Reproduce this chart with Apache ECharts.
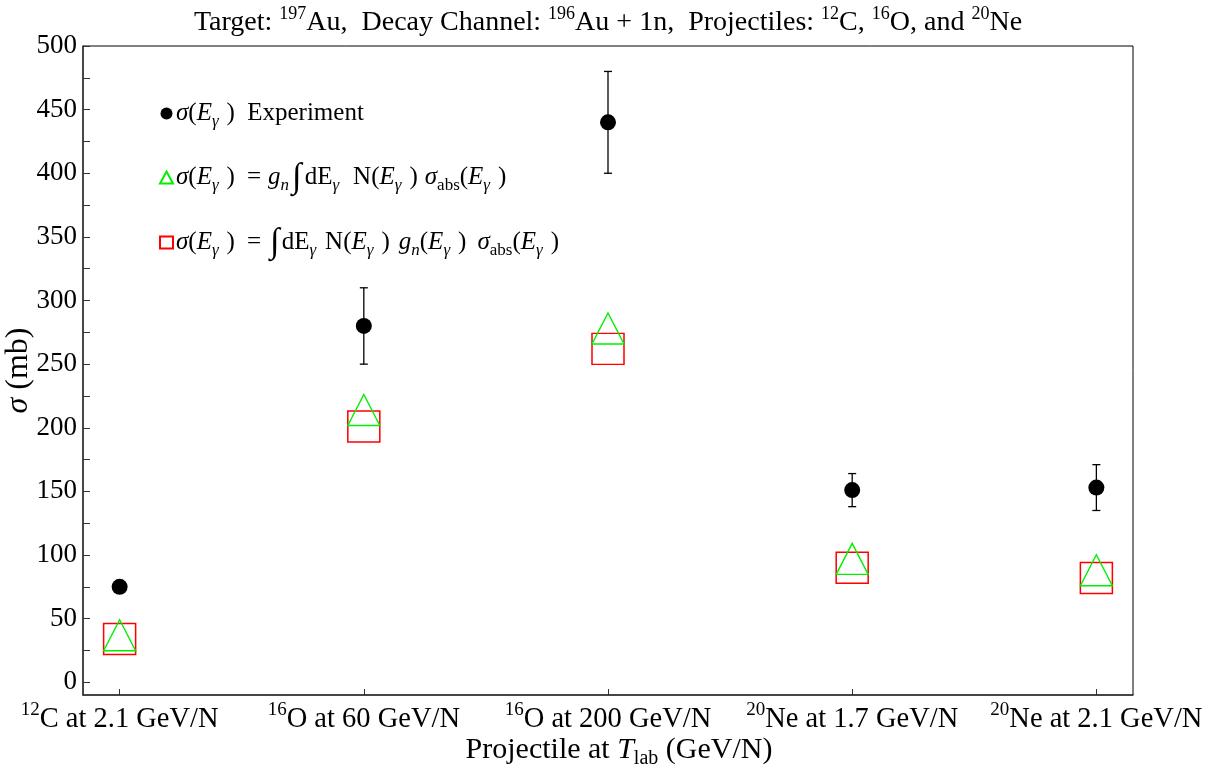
<!DOCTYPE html>
<html>
<head>
<meta charset="utf-8">
<script src="https://cdn.jsdelivr.net/npm/echarts@6/dist/echarts.min.js"></script>
<style>html,body{margin:0;padding:0;background:#fff;}#c{width:1224px;height:776px;}</style>
</head>
<body>
<div id="c"></div>
<script>
// ---- data ----
var categoryMass = ['12', '16', '16', '20', '20'];
var categoryText = ['C at 2.1 GeV/N', 'O at 60 GeV/N', 'O at 200 GeV/N', 'Ne at 1.7 GeV/N', 'Ne at 2.1 GeV/N'];
var categoryPos = [1, 2, 3, 4, 5];
var experiment = [75, 280, 440, 151, 153];
var errLow = [null, 250, 400, 138, 135];
var errHigh = [null, 310, 480, 164, 171];
var modelGn = [37, 214, 278, 97, 88];          // green triangles
var modelGnE = [34, 201, 262, 90, 82];         // red squares
var yTickValues = [0, 25, 50, 75, 100, 125, 150, 175, 200, 225, 250, 275, 300, 325, 350, 375, 400, 425, 450, 475, 500];
var yLabelValues = [0, 50, 100, 150, 200, 250, 300, 350, 400, 450, 500];

var FONT = 'Liberation Serif';
var chart = echarts.init(document.getElementById('c'), null, {renderer: 'canvas'});

function pair(arr) { return categoryPos.map(function (x, i) { return [x, arr[i]]; }); }
var errData = [];
categoryPos.forEach(function (x, i) { if (errLow[i] != null) errData.push([x, errLow[i], errHigh[i]]); });

function mkRich(fs) {
  var s = Math.round(fs * 0.66);
  var r = {
    n: {fontFamily: FONT, fontSize: fs, fontWeight: 'normal', color: '#000', lineHeight: fs + 8},
    i: {fontFamily: FONT, fontSize: fs, fontWeight: 'normal', fontStyle: 'italic', color: '#000', lineHeight: fs + 8},
    sub: {fontFamily: FONT, fontSize: s, fontWeight: 'normal', fontStyle: 'italic', color: '#000', lineHeight: s + 4, verticalAlign: 'bottom'},
    subr: {fontFamily: FONT, fontSize: s, fontWeight: 'normal', color: '#000', lineHeight: s + 4, verticalAlign: 'bottom'},
    sup: {fontFamily: FONT, fontSize: s, fontWeight: 'normal', color: '#000', lineHeight: s, verticalAlign: 'top'},
    int: {fontFamily: FONT, fontSize: fs + 10, fontWeight: 'normal', color: '#000', lineHeight: fs + 8}
  };
  for (var k = 1; k <= 20; k++) r['s' + k] = {fontFamily: FONT, fontSize: fs, width: k, lineHeight: fs + 8};
  return r;
}
var legRich = mkRich(25);
var tickRich = mkRich(28.5);
var nameRich = mkRich(30);
var yNameRich = mkRich(32);
var titleRich = mkRich(28);

var EG = '{i|E}{sub|γ}{s8| }{n|)}';
var legendText = {
  'exp': '{i|σ}{n|(}' + EG + '{s6| }{n| Experiment}',
  'gn': '{i|σ}{n|(}' + EG + '{s12| }{n|=}{s7| }{i|g}{sub|n}{s3| }{int|∫}{s3| }{n|dE}{sub|γ}{s14| }{n|N(}' + EG + '{s7| }{i|σ}{subr|abs}{n|(}' + EG,
  'gnE': '{i|σ}{n|(}' + EG + '{s12| }{n|=}{s9| }{int|∫}{s2| }{n|dE}{sub|γ}{s9| }{n|N(}' + EG + '{s9| }{i|g}{sub|n}{n|(}' + EG + '{s11| }{i|σ}{subr|abs}{n|(}' + EG
};

var option = {
  backgroundColor: '#fff',
  animation: false,
  title: {
    text: '{n|Target: }{sup|197}{n|Au,  Decay Channel: }{sup|196}{n|Au + 1n,  Projectiles: }{sup|12}{n|C, }{sup|16}{n|O, and }{sup|20}{n|Ne}',
    left: 603, top: 0, textAlign: 'center',
    textStyle: {fontWeight: 'normal', rich: titleRich}
  },
  grid: {left: 83, right: 91, top: 46, bottom: 81, show: true, borderColor: '#000', borderWidth: 1,
         backgroundColor: 'transparent', outerBoundsMode: 'none', containLabel: false},
  legend: {
    orient: 'vertical', left: 154, top: 96, itemGap: 30,
    itemWidth: 13, itemHeight: 12,
    data: [
      {name: 'exp', icon: 'circle'},
      {name: 'gn', icon: 'triangle'},
      {name: 'gnE', icon: 'rect'}
    ],
    formatter: function (name) { return legendText[name]; },
    textStyle: {rich: legRich, padding: [0, 0, 0, -2]},
    selectedMode: false
  },
  xAxis: {
    type: 'value', min: 0.85, max: 5.15,
    name: '{n|Projectile at }{i|T}{subr|lab}{n| (GeV/N)}',
    nameLocation: 'middle', nameGap: 36, nameMoveOverlap: false,
    nameTextStyle: {rich: nameRich, padding: [0, 0, 0, 22]},
    axisLine: {onZero: false, lineStyle: {color: '#333', width: 1.5}},
    axisTick: {inside: true, length: 6, customValues: categoryPos, lineStyle: {color: '#333'}},
    axisLabel: {
      customValues: categoryPos, margin: 6,
      formatter: function (v) { var i = Math.round(v) - 1; return '{sup|' + categoryMass[i] + '}{n|' + categoryText[i] + '}'; },
      rich: tickRich
    },
    splitLine: {show: false}
  },
  yAxis: {
    type: 'value', min: -10, max: 500,
    name: '{i|σ}{n| (mb)}', nameLocation: 'middle', nameGap: 44, nameRotate: 90, nameMoveOverlap: false,
    nameTextStyle: {rich: yNameRich},
    axisLine: {show: true, onZero: false, lineStyle: {color: '#333', width: 1.5}},
    axisTick: {show: true, inside: true, length: 7, customValues: yTickValues, lineStyle: {color: '#333'}},
    axisLabel: {customValues: yLabelValues, margin: 6, fontFamily: FONT, fontSize: 27, color: '#000'},
    splitLine: {show: false}
  },
  series: [
    {
      name: 'gnE', type: 'scatter', symbol: 'rect', symbolSize: [32, 31],
      itemStyle: {color: 'rgba(0,0,0,0)', borderColor: '#ff0000', borderWidth: 1.5, opacity: 1},
      data: pair(modelGnE), z: 2
    },
    {
      name: 'gn', type: 'scatter', symbol: 'triangle', symbolSize: [32, 31],
      itemStyle: {color: 'rgba(0,0,0,0)', borderColor: '#00f000', borderWidth: 1.4, opacity: 1},
      data: pair(modelGn), z: 3
    },
    {
      name: 'err', type: 'custom', z: 4,
      renderItem: function (params, api) {
        var x = api.value(0);
        var lo = api.coord([x, api.value(1)]);
        var hi = api.coord([x, api.value(2)]);
        var w = 4;
        var st = {stroke: '#000', lineWidth: 1.3};
        return {type: 'group', children: [
          {type: 'line', shape: {x1: lo[0], y1: lo[1], x2: hi[0], y2: hi[1]}, style: st},
          {type: 'line', shape: {x1: lo[0] - w, y1: lo[1], x2: lo[0] + w, y2: lo[1]}, style: st},
          {type: 'line', shape: {x1: hi[0] - w, y1: hi[1], x2: hi[0] + w, y2: hi[1]}, style: st}
        ]};
      },
      encode: {x: 0, y: [1, 2]},
      data: errData
    },
    {
      name: 'exp', type: 'scatter', symbol: 'circle', symbolSize: 16,
      itemStyle: {color: '#000', opacity: 1}, data: pair(experiment), z: 5
    }
  ]
};
chart.setOption(option);
</script>
</body>
</html>
